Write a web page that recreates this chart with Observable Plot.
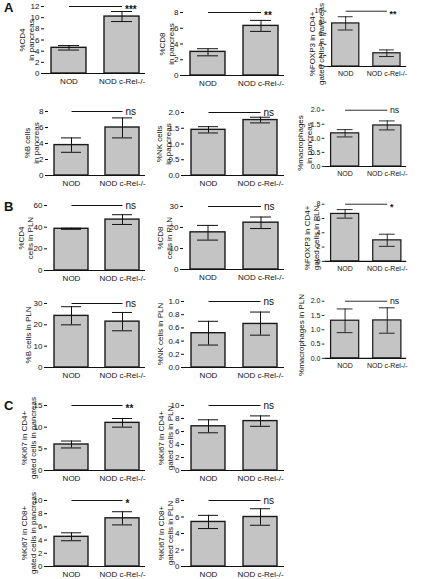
<!DOCTYPE html>
<html><head><meta charset="utf-8">
<script src="https://cdn.jsdelivr.net/npm/d3@7"></script>
<script src="https://cdn.jsdelivr.net/npm/@observablehq/plot@0.6"></script>
<style>
body{margin:0;background:#fff;font-family:"Liberation Sans",Arial,sans-serif;}
#fig{position:relative;width:429px;height:579px;overflow:hidden;background:#fff;}
.panel{position:absolute;}
.letter{position:absolute;font-weight:bold;font-size:13px;font-family:"Liberation Sans",Arial,sans-serif;color:#111;}
.ylab{position:absolute;white-space:pre;text-align:center;font-size:8px;line-height:8.5px;color:#111;
  font-family:"Liberation Sans",Arial,sans-serif;transform:translate(-50%,-50%) rotate(-90deg);}
</style></head><body><div id="fig"></div>
<script>
// ---- data ----
const groups = ["NOD", "NOD c-Rel-/-"];
const yLabels = [
  "%CD4\nin pancreas", "%CD8\nin pancreas", "%FOXP3 in CD4+\ngated cells in pancreas",
  "%B cells\nin pancreas", "%NK cells\nin pancreas", "%macrophages\nin pancreas",
  "%CD4\ncells in PLN", "%CD8\ncells in PLN", "%FOXP3 in CD4+\ngated cells in PLN",
  "%B cells in PLN", "%NK cells in PLN", "%macrophages in PLN",
  "%Ki67 in CD4+\ngated cells in pancreas", "%Ki67 in CD4+\ngated cells in PLN",
  "%Ki67 in CD8+\ngated cells in pancreas", "%Ki67 in CD8+\ngated cells in PLN"
];
const yMax      = [12, 8, 10, 8, 2, 2, 60, 30, 8, 30, 1, 2, 15, 10, 10, 8];
const yTickStep = [2, 2, 2, 2, 0.5, 0.5, 20, 10, 2, 10, 0.2, 0.5, 5, 2, 2, 2];
const nodMean  = [4.6, 3.0, 7.8, 3.8, 1.45, 1.18, 38.5, 17.7, 6.65, 24.2, 0.52, 1.32, 6.0, 6.8, 4.5, 5.4];
const nodLow   = [4.2, 2.5, 6.6, 2.9, 1.35, 1.05, 38.0, 14.0, 6.05, 20.0, 0.34, 0.90, 5.2, 5.8, 3.9, 4.6];
const nodHigh  = [5.0, 3.4, 9.0, 4.7, 1.55, 1.31, 39.0, 21.0, 7.25, 28.5, 0.70, 1.73, 6.8, 7.8, 5.1, 6.2];
const crelMean = [10.2, 6.3, 2.4, 6.0, 1.76, 1.46, 47.0, 22.3, 2.95, 21.5, 0.66, 1.33, 11.0, 7.6, 7.3, 6.0];
const crelLow  = [9.3, 5.6, 1.8, 4.7, 1.67, 1.30, 42.5, 19.5, 2.1, 17.2, 0.49, 0.88, 10.0, 6.8, 6.3, 5.0];
const crelHigh = [11.1, 7.0, 3.0, 7.2, 1.85, 1.62, 51.5, 25.0, 3.8, 25.8, 0.84, 1.77, 12.0, 8.4, 8.3, 7.0];
const signif   = ["***", "**", "**", "ns", "ns", "ns", "ns", "ns", "*", "ns", "ns", "ns", "**", "ns", "*", "ns"];
const panelLetters = ["A", "B", "C"];

// ---- layout (pixel placement of each panel) ----
const layout = [
  {ax: 44, top: 6, bot: 73, right: 145, ldx: -17},
  {ax: 183, top: 12, bot: 75, right: 284, ldx: -16},
  {ax: 332, top: 12, bot: 75, right: 423, ldx: -15},
  {ax: 48, top: 111, bot: 175, right: 145, ldx: -16},
  {ax: 184, top: 112, bot: 175, right: 284, ldx: -20},
  {ax: 330, top: 111, bot: 175, right: 423, ldx: -25},
  {ax: 47, top: 205, bot: 270, right: 145, ldx: -21},
  {ax: 183, top: 206, bot: 269, right: 284, ldx: -18},
  {ax: 330, top: 205, bot: 270, right: 423, ldx: -18},
  {ax: 47, top: 303, bot: 367, right: 145, ldx: -18},
  {ax: 184, top: 301, bot: 367, right: 284, ldx: -23},
  {ax: 330, top: 302, bot: 367, right: 423, ldx: -28},
  {ax: 47, top: 405, bot: 470, right: 145, ldx: -18},
  {ax: 184, top: 405, bot: 470, right: 284, ldx: -18},
  {ax: 47, top: 500, bot: 566, right: 145, ldx: -18},
  {ax: 184, top: 500, bot: 566, right: 284, ldx: -18}
];
const letterPos = [{x: 4, y: 0}, {x: 4, y: 199}, {x: 4, y: 398}];

const fig = document.getElementById("fig");
const FONT = '"Liberation Sans", Arial, sans-serif';

function drawPanel(i) {
  const L = layout[i];
  const mt = 10, mb = 20, ml = 46, mr = 26;
  const plotW = L.right - L.ax, plotH = L.bot - L.top;
  const rows = groups.map((g, j) => ({
    group: g,
    mean: j ? crelMean[i] : nodMean[i],
    lo: j ? crelLow[i] : nodLow[i],
    hi: j ? crelHigh[i] : nodHigh[i]
  }));
  const step = yTickStep[i];
  const ticks = d3.range(0, yMax[i] + step / 2, step);
  const fmt = step < 1 ? d3.format(".1f") : d3.format("d");
  const sig = [{a: groups[0], b: groups[1], y: yMax[i], label: signif[i]}];
  const isStar = signif[i] !== "ns";
  const svg = Plot.plot({
    width: ml + plotW + mr,
    height: mt + plotH + mb,
    marginTop: mt, marginBottom: mb, marginLeft: ml, marginRight: mr,
    style: {background: "transparent", overflow: "visible", fontFamily: FONT, fontSize: "8px", color: "#111"},
    x: {domain: groups, paddingInner: 0.34, paddingOuter: 0.12},
    y: {domain: [0, yMax[i]]},
    marks: [
      Plot.barY(rows, {x: "group", y: "mean", fill: "#c4c4c4", stroke: "#1a1a1a", strokeWidth: 1.4}),
      Plot.ruleX(rows, {x: "group", y1: "lo", y2: "hi", stroke: "#111", strokeWidth: 1}),
      Plot.tickY(rows, {x: "group", y: "lo", inset: 7, stroke: "#111", strokeWidth: 1}),
      Plot.tickY(rows, {x: "group", y: "hi", inset: 7, stroke: "#111", strokeWidth: 1}),
      Plot.ruleY([0], {stroke: "#111", strokeWidth: 1.2}),
      Plot.axisY({ticks, tickFormat: fmt, tickSize: 3, tickPadding: 2, label: null, line: true, stroke: "#111", fill: "#111"}),
      Plot.axisX({tickSize: 0, tickPadding: 5, label: null, fontSize: 8, fill: "#111"}),
      Plot.link(sig, {x1: "a", x2: "b", y1: "y", y2: "y", stroke: "#111", strokeWidth: 1}),
      Plot.text(sig, {x: "b", y: "y", text: "label", textAnchor: "start", dx: 3, dy: isStar ? 3 : 0,
        fontSize: 10, fontWeight: isStar ? "bold" : "normal", fill: "#111"})
    ]
  });
  const div = document.createElement("div");
  div.className = "panel";
  div.style.left = (L.ax - ml) + "px";
  div.style.top = (L.top - mt) + "px";
  div.appendChild(svg);
  fig.appendChild(div);

  const lab = document.createElement("div");
  lab.className = "ylab";
  lab.textContent = yLabels[i];
  lab.style.left = (L.ax + L.ldx) + "px";
  lab.style.top = ((L.top + L.bot) / 2) + "px";
  fig.appendChild(lab);
}

for (let i = 0; i < yLabels.length; i++) drawPanel(i);

panelLetters.forEach((t, k) => {
  const d = document.createElement("div");
  d.className = "letter";
  d.textContent = t;
  d.style.left = letterPos[k].x + "px";
  d.style.top = letterPos[k].y + "px";
  fig.appendChild(d);
});
</script>
</body></html>
